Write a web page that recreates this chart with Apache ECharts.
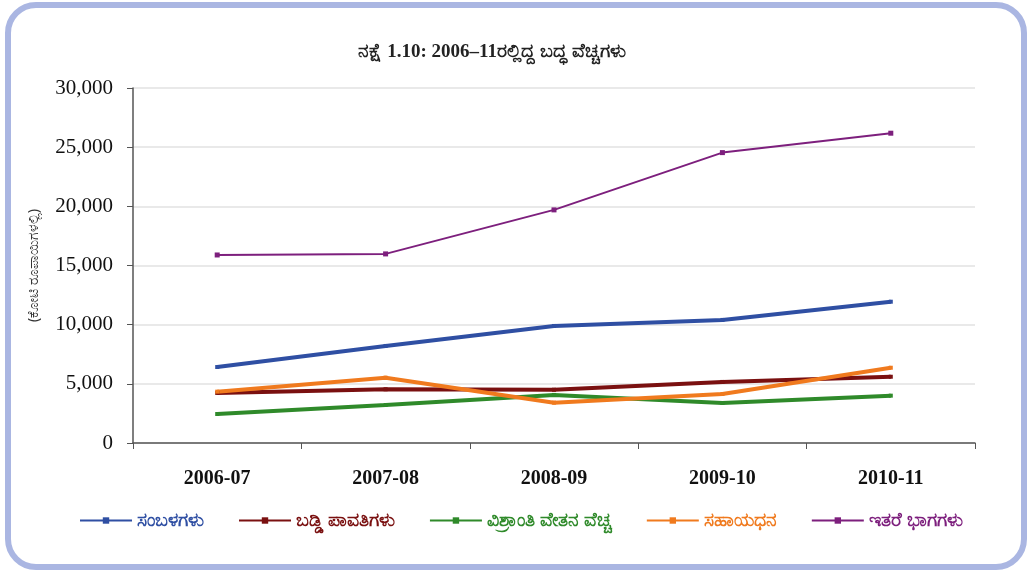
<!DOCTYPE html>
<html>
<head>
<meta charset="utf-8">
<script src="https://cdn.jsdelivr.net/npm/echarts@6/dist/echarts.min.js"></script>
<style>
html, body { margin: 0; padding: 0; background: #fff; }
#main { width: 1032px; height: 574px; }
</style>
</head>
<body>
<div id="main"></div>
<script>
var years = ['2006-07', '2007-08', '2008-09', '2009-10', '2010-11'];
var salaries = [6420, 8200, 9890, 10400, 11940];
var interest = [4230, 4540, 4500, 5160, 5600];
var pensions = [2450, 3210, 4060, 3380, 4000];
var subsidies = [4340, 5520, 3410, 4140, 6360];
var others = [15890, 15980, 19700, 24540, 26180];

var names = ['ಸಂಬಳಗಳು', 'ಬಡ್ಡಿ ಪಾವತಿಗಳು', 'ವಿಶ್ರಾಂತಿ ವೇತನ ವೆಚ್ಚ', 'ಸಹಾಯಧನ', 'ಇತರೆ ಭಾಗಗಳು'];
var colors = ['#2f4fa3', '#7a1010', '#2f8a2a', '#f07a1e', '#7d1f7d'];
var values = [salaries, interest, pensions, subsidies, others];
var widths = [4, 4, 4, 4, 2];

var myChart = echarts.init(document.getElementById('main'));

var series = values.map(function (v, i) {
    return {
        name: names[i],
        type: 'line',
        data: v,
        symbol: 'rect',
        symbolSize: i == 4 ? 5 : 4,
        lineStyle: { color: colors[i], width: widths[i] },
        itemStyle: { color: colors[i] },
        z: i == 4 ? 5 : 3
    };
});

option = {
    backgroundColor: '#fff',
    animation: false,
    textStyle: { fontFamily: 'Liberation Serif' },
    title: {
        text: 'ನಕ್ಷೆ 1.10: 2006–11ರಲ್ಲಿದ್ದ ಬದ್ಧ ವೆಚ್ಚಗಳು',
        left: 487,
        top: 38,
        textAlign: 'center',
        textStyle: { fontSize: 19, fontWeight: 'bold', color: '#222', fontFamily: 'Liberation Serif' }
    },
    graphic: [{
        type: 'rect',
        shape: { x: 8, y: 5, width: 1016, height: 562, r: 28 },
        style: { fill: 'none', stroke: '#aab6e2', lineWidth: 6 },
        z: -1
    }],
    legend: {
        bottom: 39,
        left: 74,
        itemGap: 34,
        itemWidth: 52,
        itemHeight: 8,
        data: names.map(function (n, i) {
            return { name: n, textStyle: { color: colors[i] } };
        }),
        textStyle: { fontSize: 19, fontWeight: 'bold', fontFamily: 'Noto Sans' }
    },
    grid: { left: 133, right: 57, top: 88, bottom: 131 },
    xAxis: {
        type: 'category',
        data: years,
        boundaryGap: true,
        axisLine: { lineStyle: { color: '#555', width: 1.5 } },
        axisTick: { show: true, alignWithLabel: false, length: 6, lineStyle: { color: '#555' } },
        axisLabel: { color: '#111', fontSize: 20, fontWeight: 'bold', margin: 26 }
    },
    yAxis: {
        type: 'value',
        min: 0,
        max: 30000,
        interval: 5000,
        name: '(ಕೋಟಿ ರೂಪಾಯಿಗಳಲ್ಲಿ)',
        nameLocation: 'middle',
        nameGap: 92,
        nameTextStyle: { fontSize: 14, color: '#333', fontFamily: 'Noto Sans' },
        axisLine: { show: true, lineStyle: { color: '#555', width: 1.5 } },
        axisTick: { show: true, length: 6, lineStyle: { color: '#555' } },
        axisLabel: {
            color: '#111', fontSize: 21, margin: 20,
            formatter: function (v) { return v.toLocaleString('en-US'); }
        },
        splitLine: { lineStyle: { color: '#e2e2e2', width: 1.5 } }
    },
    series: series
};

myChart.setOption(option);
</script>
</body>
</html>
